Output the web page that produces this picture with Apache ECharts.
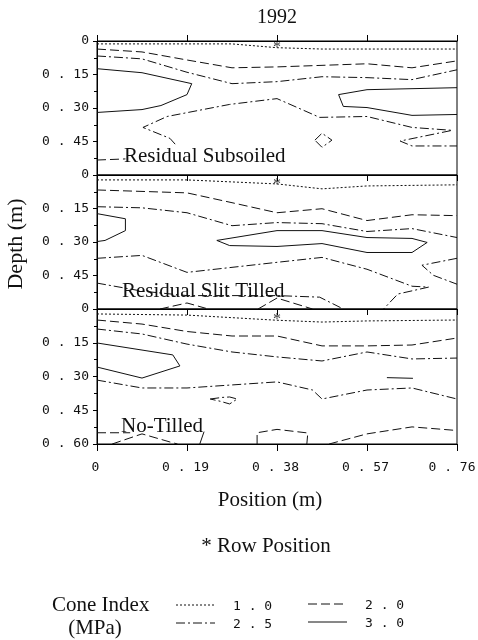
<!DOCTYPE html>
<html lang="en">
<head>
    <meta charset="UTF-8">
    <title>1992 cone index</title>
    <style>
        html, body { margin: 0; padding: 0; background: #fff; }
    </style>
</head>
<body>
<div id="main" style="width: 478px;height:640px;"></div>
<script src="https://cdn.jsdelivr.net/npm/echarts@6/dist/echarts.min.js"></script>
<script>
    // contour levels (MPa) and tick values
    var levels = ['1.0', '2.0', '2.5', '3.0'];
    var xTicks = [0, 0.19, 0.38, 0.57, 0.76];
    var yTicks = [0, 0.15, 0.30, 0.45, 0.60];
    var panelNames = ['Residual Subsoiled', 'Residual Slit Tilled', 'No-Tilled'];
    var rowPosition = 0.38;
    var rowDepth = [0.03, 0.042, 0.048];

    // contour polylines, [level, [[position, depth], ...]]
    var subsoiled = [
        ['1.0', [[0, 0.013], [0.285, 0.013], [0.38, 0.03], [0.475, 0.036], [0.76, 0.036]]],
        ['2.0', [[0, 0.036], [0.095, 0.049], [0.19, 0.085], [0.285, 0.12], [0.38, 0.116], [0.57, 0.102], [0.665, 0.12], [0.76, 0.089]]],
        ['2.5', [[0, 0.067], [0.095, 0.08], [0.19, 0.14], [0.285, 0.191], [0.38, 0.182], [0.475, 0.16], [0.57, 0.164], [0.665, 0.173], [0.76, 0.129]]],
        ['3.0', [[0, 0.124], [0.095, 0.142], [0.20, 0.191], [0.19, 0.24], [0.135, 0.289], [0.095, 0.307], [0, 0.32]]],
        ['3.0', [[0.76, 0.209], [0.57, 0.218], [0.51, 0.24], [0.52, 0.293], [0.57, 0.298], [0.665, 0.333], [0.76, 0.329]]],
        ['2.5', [[0.165, 0.462], [0.154, 0.436], [0.097, 0.387], [0.148, 0.338], [0.28, 0.284], [0.38, 0.258], [0.47, 0.342], [0.57, 0.338], [0.665, 0.387], [0.75, 0.40], [0.64, 0.448], [0.665, 0.47], [0.76, 0.47]]],
        ['2.5', [[0.46, 0.444], [0.475, 0.413], [0.496, 0.444], [0.475, 0.476], [0.46, 0.444]]],
        ['2.0', [[0, 0.533], [0.06, 0.528]]]
    ];
    var slitTilled = [
        ['1.0', [[0, 0.022], [0.19, 0.022], [0.38, 0.04], [0.475, 0.062], [0.57, 0.049], [0.76, 0.044]]],
        ['2.0', [[0, 0.067], [0.19, 0.08], [0.285, 0.124], [0.38, 0.169], [0.475, 0.151], [0.57, 0.204], [0.665, 0.178], [0.76, 0.182]]],
        ['2.5', [[0, 0.142], [0.095, 0.147], [0.19, 0.169], [0.285, 0.227], [0.38, 0.213], [0.475, 0.218], [0.57, 0.253], [0.665, 0.24], [0.76, 0.28]]],
        ['3.0', [[0, 0.173], [0.06, 0.196], [0.06, 0.249], [0.017, 0.293], [0, 0.298]]],
        ['3.0', [[0.253, 0.293], [0.38, 0.249], [0.475, 0.249], [0.57, 0.28], [0.665, 0.284], [0.697, 0.302], [0.665, 0.347], [0.57, 0.347], [0.475, 0.307], [0.38, 0.32], [0.28, 0.316], [0.253, 0.293]]],
        ['2.5', [[0, 0.373], [0.095, 0.36], [0.19, 0.436], [0.38, 0.391], [0.475, 0.369], [0.57, 0.422], [0.665, 0.498], [0.70, 0.502], [0.635, 0.533], [0.605, 0.6]]],
        ['2.5', [[0.76, 0.373], [0.686, 0.404], [0.71, 0.449], [0.76, 0.489]]],
        ['2.5', [[0, 0.484], [0.095, 0.52], [0.19, 0.54], [0.38, 0.54], [0.47, 0.547], [0.52, 0.6]]],
        ['2.0', [[0.133, 0.6], [0.19, 0.573], [0.23, 0.597]]],
        ['2.0', [[0.34, 0.6], [0.38, 0.551], [0.455, 0.6]]]
    ];
    var noTilled = [
        ['1.0', [[0, 0.022], [0.19, 0.027], [0.38, 0.05], [0.475, 0.058], [0.57, 0.053], [0.76, 0.049]]],
        ['2.0', [[0, 0.049], [0.095, 0.067], [0.19, 0.10], [0.285, 0.12], [0.38, 0.12], [0.475, 0.164], [0.57, 0.164], [0.665, 0.16], [0.76, 0.129]]],
        ['2.5', [[0, 0.089], [0.095, 0.111], [0.19, 0.156], [0.285, 0.191], [0.38, 0.213], [0.475, 0.231], [0.57, 0.191], [0.665, 0.222], [0.76, 0.218]]],
        ['3.0', [[0, 0.151], [0.16, 0.204], [0.175, 0.253], [0.095, 0.307], [0, 0.258]]],
        ['3.0', [[0.612, 0.305], [0.667, 0.308]]],
        ['2.5', [[0, 0.316], [0.095, 0.351], [0.19, 0.351], [0.38, 0.324], [0.455, 0.36], [0.475, 0.40], [0.57, 0.36], [0.665, 0.351], [0.76, 0.40]]],
        ['2.5', [[0.239, 0.40], [0.264, 0.393], [0.28, 0.391], [0.296, 0.40], [0.28, 0.422], [0.26, 0.41], [0.239, 0.40]]],
        ['2.0', [[0, 0.55], [0.07, 0.55]]],
        ['2.0', [[0.032, 0.6], [0.095, 0.555], [0.154, 0.591], [0.17, 0.6]]],
        ['3.0', [[0.217, 0.6], [0.226, 0.545]]],
        ['2.0', [[0.338, 0.6], [0.338, 0.55], [0.38, 0.535], [0.445, 0.551], [0.443, 0.6]]],
        ['2.0', [[0.49, 0.6], [0.57, 0.555], [0.665, 0.524], [0.76, 0.54]]]
    ];
    var panels = [subsoiled, slitTilled, noTilled];

    var dashes = {'1.0': [2, 2], '2.0': [9, 4], '2.5': [9, 3, 2, 3], '3.0': 'solid'};
    var ink = '#111';
    var serif = 'Liberation Serif';
    var mono = 'DejaVu Sans Mono';

    function spaced(v) {
        // "0 . 15" style labels
        if (v === 0) return '0';
        var s = v.toFixed(2);
        return s.charAt(0) + ' . ' + s.slice(2);
    }

    var myChart = echarts.init(document.getElementById('main'));

    var tops = [41, 175, 309];
    var grids = [], xAxes = [], yAxes = [], series = [];
    for (var p = 0; p < 3; p++) {
        grids.push({left: 97, width: 360, top: tops[p], height: p === 2 ? 135 : 134,
            containLabel: false, outerBoundsMode: 'none',
            show: true, borderColor: '#000', borderWidth: 1, backgroundColor: 'transparent'});
        yAxes.push({
            type: 'value', gridIndex: p, inverse: true, min: 0, max: 0.6, interval: 0.15,
            axisLine: {show: true, lineStyle: {color: '#000'}},
            axisTick: {show: true, inside: false, length: 4, lineStyle: {color: '#000'}},
            minorTick: {show: true, splitNumber: 2, length: 3, lineStyle: {color: '#000'}},
            splitLine: {show: false},
            axisLabel: {
                color: ink, fontFamily: mono, fontSize: 13, margin: 8,
                formatter: (function (pi) {
                    return function (v) {
                        if (Math.abs(v - 0.6) < 1e-6 && pi < 2) return '';
                        return spaced(Math.round(v * 100) / 100);
                    };
                })(p)
            }
        });
    }
    // x axes: panel 1 bottom ticks, panel 2/3 top ticks, panel 3 labelled bottom
    var xBase = {type: 'value', min: 0, max: 0.76, interval: 0.19, splitLine: {show: false},
        axisLine: {show: true, lineStyle: {color: '#000'}}};
    xAxes.push(Object.assign({}, xBase, {gridIndex: 0, position: 'bottom',
        axisTick: {inside: true, length: 6, lineStyle: {color: '#000'}}, axisLabel: {show: false}}));
    xAxes.push(Object.assign({}, xBase, {gridIndex: 1, position: 'top',
        axisTick: {inside: true, length: 6, lineStyle: {color: '#000'}}, axisLabel: {show: false}}));
    xAxes.push(Object.assign({}, xBase, {gridIndex: 2, position: 'top',
        axisTick: {inside: true, length: 6, lineStyle: {color: '#000'}}, axisLabel: {show: false}}));
    xAxes.push(Object.assign({}, xBase, {gridIndex: 2, position: 'bottom',
        axisTick: {inside: false, length: 7, lineStyle: {color: '#000'}},
        axisLabel: {color: ink, fontFamily: mono, fontSize: 13, margin: 17,
            formatter: function (v) {
                var t = spaced(Math.round(v * 100) / 100);
                return Math.abs(v - 0.76) < 1e-6 ? '{last|' + t + '}' : '{n|' + t + '}';
            },
            rich: {
                n: {fontFamily: mono, fontSize: 13, color: ink, padding: [0, 3, 0, 0]},
                last: {fontFamily: mono, fontSize: 13, color: ink, padding: [0, 10, 0, 0]}
            }}}));
    var xIndexOf = [0, 1, 3];

    panels.forEach(function (lines, p) {
        lines.forEach(function (ln) {
            series.push({
                type: 'line', xAxisIndex: xIndexOf[p], yAxisIndex: p,
                data: ln[1], symbol: 'none', silent: true,
                lineStyle: {color: ink, width: 1, type: dashes[ln[0]]}
            });
        });
        series.push({
            type: 'scatter', xAxisIndex: xIndexOf[p], yAxisIndex: p,
            data: [[rowPosition, rowDepth[p]]], symbolSize: 1, silent: true,
            itemStyle: {color: 'rgba(0,0,0,0)'},
            label: {show: true, formatter: '*', position: 'inside', color: '#000',
                fontFamily: serif, fontSize: 16}
        });
    });

    var graphics = [
        {type: 'text', left: 257, top: 8, style: {text: '1992', font: '20px "Liberation Serif"', fill: ink}},
        {type: 'text', x: 16, y: 244, rotation: Math.PI / 2,
            style: {text: 'Depth (m)', font: '22px "Liberation Serif"', fill: ink, textAlign: 'center', textVerticalAlign: 'middle'}},
        {type: 'text', x: 270, y: 500, style: {text: 'Position (m)', font: '21px "Liberation Serif"', fill: ink, textAlign: 'center', textVerticalAlign: 'middle'}},
        {type: 'text', x: 266, y: 546, style: {text: '* Row Position', font: '21px "Liberation Serif"', fill: ink, textAlign: 'center', textVerticalAlign: 'middle'}},
        {type: 'text', x: 52, y: 605, style: {text: 'Cone Index', font: '21px "Liberation Serif"', fill: ink, textVerticalAlign: 'middle'}},
        {type: 'text', x: 95, y: 628, style: {text: '(MPa)', font: '21px "Liberation Serif"', fill: ink, textAlign: 'center', textVerticalAlign: 'middle'}}
    ];
    var labelPos = [[124, 156], [122, 291], [121, 426]];
    panelNames.forEach(function (n, i) {
        graphics.push({type: 'text', x: labelPos[i][0], y: labelPos[i][1], z: 10,
            style: {text: n, font: '21px "Liberation Serif"', fill: ink, textVerticalAlign: 'middle'}});
    });
    // legend: two columns
    var legendSpots = [[176, 605], [308, 604], [176, 623], [308, 622]];
    levels.forEach(function (lv, i) {
        var s = legendSpots[i];
        graphics.push({type: 'line', shape: {x1: s[0], y1: s[1], x2: s[0] + 39, y2: s[1]},
            style: {stroke: ink, lineWidth: 1, lineDash: dashes[lv] === 'solid' ? null : dashes[lv]}});
        graphics.push({type: 'text', x: s[0] + 57, y: s[1] + 2,
            style: {text: lv.charAt(0) + ' . ' + lv.charAt(2), font: '13px "DejaVu Sans Mono"', fill: ink, textVerticalAlign: 'middle'}});
    });

    var option = {
        backgroundColor: '#fff',
        animation: false,
        grid: grids,
        xAxis: xAxes,
        yAxis: yAxes,
        series: series,
        graphic: graphics
    };
    myChart.setOption(option);
</script>
</body>
</html>
